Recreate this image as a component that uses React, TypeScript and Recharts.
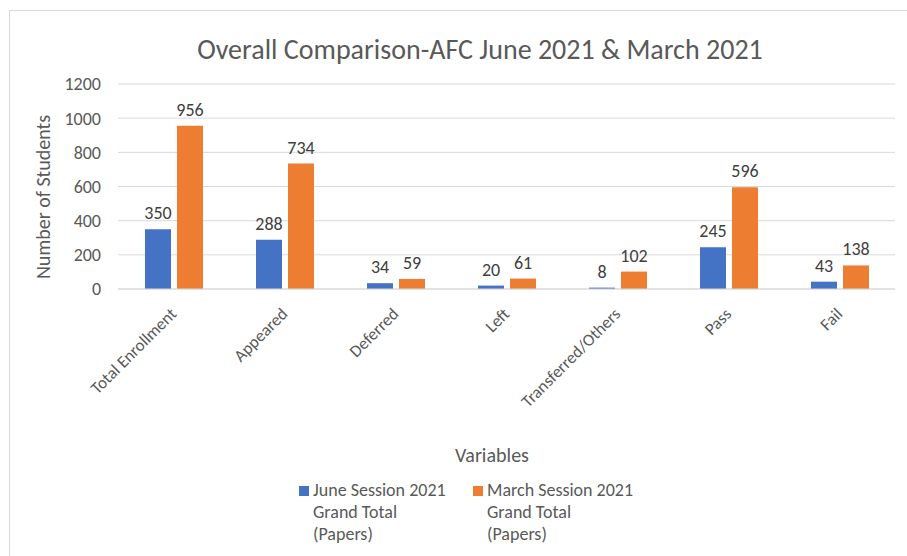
import React from 'react';
import { BarChart, Bar, XAxis, YAxis, CartesianGrid, LabelList } from 'recharts';

const categories = ['Total Enrollment', 'Appeared', 'Deferred', 'Left', 'Transferred/Others', 'Pass', 'Fail'];
const juneValues = [350, 288, 34, 20, 8, 245, 43];
const marchValues = [956, 734, 59, 61, 102, 596, 138];
const yTicks = [0, 200, 400, 600, 800, 1000, 1200];
const seriesNames = ['June Session 2021 Grand Total (Papers)', 'March Session 2021 Grand Total (Papers)'];
const legendLines = [
  ['June Session 2021', 'Grand Total', '(Papers)'],
  ['March Session 2021', 'Grand Total', '(Papers)'],
];
const title = 'Overall Comparison-AFC June 2021 & March 2021';
const xTitle = 'Variables';
const yTitle = 'Number of Students';

const data = categories.map((c, i) => ({ name: c, june: juneValues[i], march: marchValues[i] }));

const FONT = 'Carlito, Lato, sans-serif';
const TEXT = '#595959';
const BLUE = '#4472C4';
const ORANGE = '#ED7D31';

const XTick = (props: any) => {
  const { x, y, payload } = props;
  const ax = x + 4;
  const ay = y + 18;
  return (
    <text x={ax} y={ay} textAnchor="end" fill={TEXT} fontSize={17} fontFamily={FONT} transform={`rotate(-45, ${ax}, ${ay})`}>
      {payload.value}
    </text>
  );
};

export default function App() {
  return (
    <div style={{ position: 'absolute', left: 0, top: 0, width: 907, height: 556, background: '#fff', fontFamily: FONT, overflow: 'hidden' }}>
      <div style={{ position: 'absolute', left: 9, top: 10, width: 920, height: 560, borderLeft: '1px solid #d9d9d9', borderTop: '1px solid #d9d9d9' }} />
      <div style={{ position: 'absolute', left: 0, width: 960, top: 33, textAlign: 'center', fontSize: 28, color: TEXT, lineHeight: '34px', whiteSpace: 'nowrap' }}>{title}</div>
      <div style={{ position: 'absolute', left: 0, top: 0 }}>
        <BarChart width={907} height={556} data={data} margin={{ top: 84, right: 12, left: 0, bottom: 0 }} barCategoryGap={27} barGap={6}>
          <CartesianGrid vertical={false} stroke="#d9d9d9" strokeWidth={1} />
          <XAxis dataKey="name" height={267} interval={0} tickLine={false} axisLine={{ stroke: '#d9d9d9' }} tick={<XTick />} />
          <YAxis width={118} domain={[0, 1200]} ticks={yTicks} axisLine={false} tickLine={false} tickSize={0} tickMargin={17} tick={{ fill: TEXT, fontSize: 18, fontFamily: FONT }} />
          <Bar dataKey="june" name={seriesNames[0]} fill={BLUE} isAnimationActive={false}>
            <LabelList dataKey="june" position="top" offset={10} fill="#404040" fontSize={18} fontFamily={FONT} />
          </Bar>
          <Bar dataKey="march" name={seriesNames[1]} fill={ORANGE} isAnimationActive={false}>
            <LabelList dataKey="march" position="top" offset={10} fill="#404040" fontSize={18} fontFamily={FONT} />
          </Bar>
        </BarChart>
      </div>
      <div style={{ position: 'absolute', left: 43, top: 197, width: 0, height: 0 }}>
        <div style={{ position: 'absolute', left: 0, top: 0, transform: 'translate(-50%, -50%) rotate(-90deg)', whiteSpace: 'nowrap', fontSize: 20, lineHeight: '24px', color: TEXT }}>{yTitle}</div>
      </div>
      <div style={{ position: 'absolute', left: 392, width: 200, top: 442, textAlign: 'center', fontSize: 20, color: TEXT, lineHeight: '26px' }}>{xTitle}</div>
      {legendLines.map((lines, i) => (
        <div key={i} style={{ position: 'absolute', left: i === 0 ? 299 : 473, top: 479 }}>
          <div style={{ position: 'absolute', left: 0, top: 7, width: 10, height: 10, background: i === 0 ? BLUE : ORANGE }} />
          <div style={{ position: 'absolute', left: 14, top: 0, fontSize: 18, color: TEXT, lineHeight: '22px', whiteSpace: 'nowrap' }}>
            {lines.map((l, j) => (<div key={j}>{l}</div>))}
          </div>
        </div>
      ))}
    </div>
  );
}
